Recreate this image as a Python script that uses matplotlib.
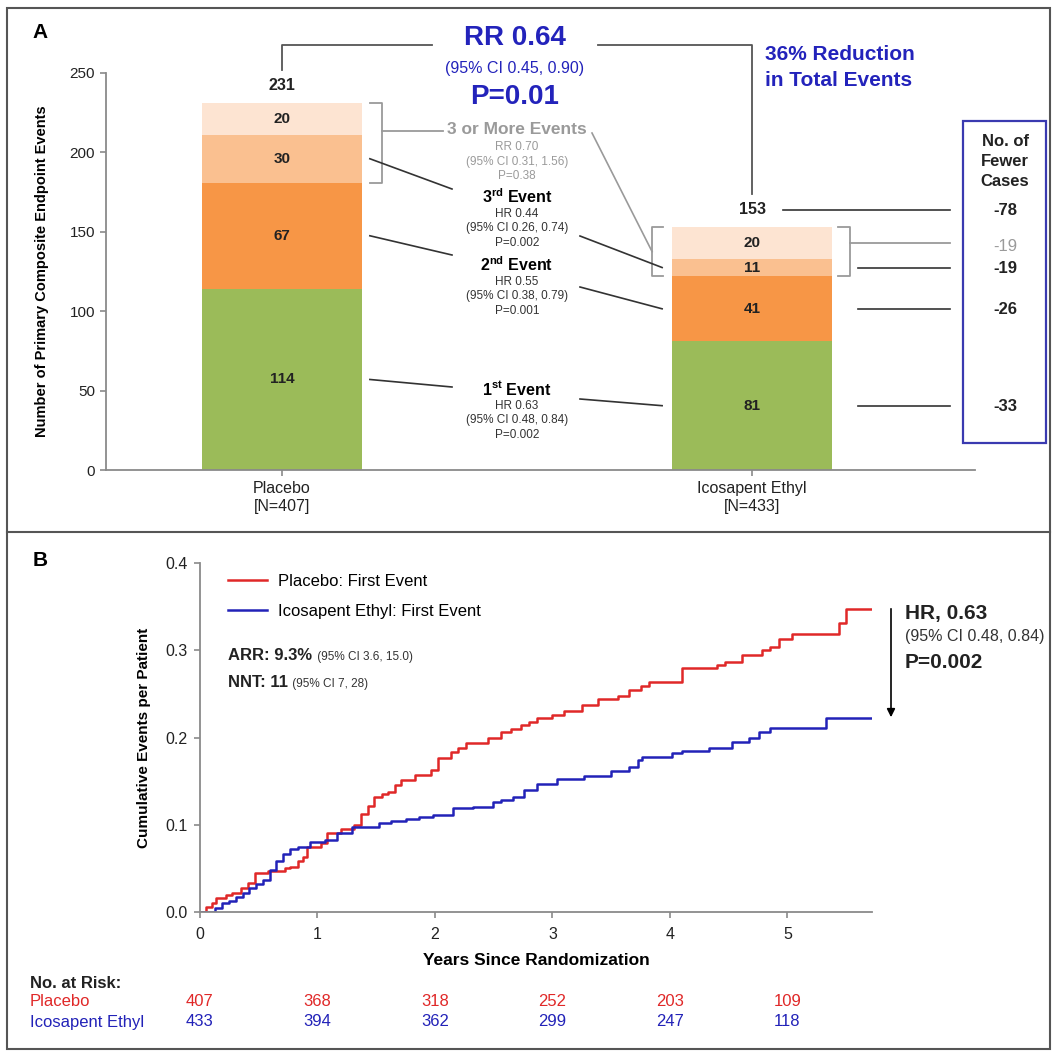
import matplotlib.pyplot as plt
from matplotlib.patches import Rectangle
from matplotlib.transforms import blended_transform_factory

plt.rcParams['font.family'] = ['Liberation Sans', 'DejaVu Sans']
plt.rcParams['mathtext.fontset'] = 'custom'
plt.rcParams['mathtext.rm'] = 'Liberation Sans'
plt.rcParams['mathtext.bf'] = 'Liberation Sans:bold'

# ---- panel A data: events by order ----
groups = ['Placebo', 'Icosapent Ethyl']
n_patients = [407, 433]
first_event = [114, 81]
second_event = [67, 41]
third_event = [30, 11]
fourth_plus = [20, 20]

# ---- panel B data: cumulative first events ----
years_placebo = [0, 0.05, 0.10, 0.14, 0.22, 0.27, 0.35, 0.41, 0.47, 0.58,
                 0.72, 0.77, 0.83, 0.88, 0.91, 1.03, 1.08, 1.20, 1.31, 1.37,
                 1.43, 1.48, 1.55, 1.60, 1.66, 1.71, 1.83, 1.97, 2.03, 2.14,
                 2.20, 2.26, 2.45, 2.56, 2.65, 2.73, 2.80, 2.87, 3.00, 3.10,
                 3.25, 3.39, 3.56, 3.65, 3.75, 3.82, 4.10, 4.40, 4.47, 4.61,
                 4.78, 4.85, 4.93, 5.04, 5.44, 5.50, 5.72]
cum_placebo = [0, 0.006, 0.010, 0.016, 0.019, 0.022, 0.028, 0.033, 0.045, 0.047,
               0.050, 0.052, 0.058, 0.063, 0.075, 0.079, 0.090, 0.095, 0.100, 0.112,
               0.122, 0.132, 0.135, 0.138, 0.145, 0.151, 0.157, 0.163, 0.176, 0.183,
               0.188, 0.194, 0.200, 0.206, 0.210, 0.214, 0.218, 0.222, 0.226, 0.230,
               0.237, 0.244, 0.247, 0.254, 0.259, 0.264, 0.280, 0.283, 0.287, 0.295,
               0.300, 0.304, 0.313, 0.319, 0.331, 0.347, 0.347]
years_ipe = [0, 0.13, 0.19, 0.25, 0.31, 0.37, 0.42, 0.48, 0.54, 0.60,
             0.65, 0.71, 0.77, 0.83, 0.94, 1.06, 1.17, 1.29, 1.52, 1.63,
             1.75, 1.86, 1.98, 2.15, 2.32, 2.49, 2.56, 2.66, 2.76, 2.87,
             3.04, 3.27, 3.50, 3.65, 3.73, 3.76, 4.02, 4.10, 4.33, 4.53,
             4.67, 4.76, 4.85, 5.33, 5.72]
cum_ipe = [0, 0.005, 0.010, 0.013, 0.017, 0.022, 0.027, 0.032, 0.037, 0.048,
           0.058, 0.067, 0.072, 0.075, 0.080, 0.082, 0.090, 0.097, 0.102, 0.104,
           0.107, 0.109, 0.111, 0.119, 0.120, 0.126, 0.128, 0.132, 0.140, 0.147,
           0.152, 0.156, 0.162, 0.166, 0.174, 0.178, 0.182, 0.184, 0.188, 0.195,
           0.199, 0.206, 0.211, 0.222, 0.222]
risk_years = [0, 1, 2, 3, 4, 5]
risk_placebo = [407, 368, 318, 252, 203, 109]
risk_ipe = [433, 394, 362, 299, 247, 118]

W, H = 1056, 1053
RED = '#E02828'
BLUE = '#2222B8'
TXTBLUE = '#2323BB'
GRAY = '#9A9A9A'
AXGRAY = '#8A8A8A'
DARK = '#333333'

fig = plt.figure(figsize=(W / 100, H / 100), dpi=100)


def rect(l, t, r, b):
    return [l / W, 1 - b / H, (r - l) / W, (b - t) / H]


ax_a = fig.add_axes(rect(106, 73, 975, 470))
ax_b = fig.add_axes(rect(200, 563, 872, 912))
ov = fig.add_axes([0, 0, 1, 1])
ov.set_xlim(0, W)
ov.set_ylim(H, 0)
ov.set_axis_off()


def style(ax):
    for s in ['top', 'right']:
        ax.spines[s].set_visible(False)
    for s in ['left', 'bottom']:
        ax.spines[s].set_color(AXGRAY)
        ax.spines[s].set_linewidth(1.3)
    ax.tick_params(color=AXGRAY, width=1.2, length=4, labelcolor='#222222')


def txt(x, y, s, size, color='black', weight='normal', ha='center', va='center'):
    return ov.text(x, y, s, fontsize=size, color=color, fontweight=weight, ha=ha, va=va)


# ================= Panel A =================
style(ax_a)
ax_a.set_xlim(-0.3744, 1.4744)
ax_a.set_ylim(0, 250)
layers = [first_event, second_event, third_event, fourth_plus]
colors = ['#9BBB59', '#F79646', '#FAC090', '#FDE4D2']
pos = [0, 1]
width = 0.34
bottom = [0, 0]
centers = []
for vals, c in zip(layers, colors):
    ax_a.bar(pos, vals, width, bottom=bottom, color=c)
    mids = []
    for p, v, b in zip(pos, vals, bottom):
        ax_a.text(p, b + v / 2, str(v), ha='center', va='center', fontsize=11,
                  fontweight='bold', color='#222222')
        mids.append(b + v / 2)
    centers.append(mids)
    bottom = [b + v for b, v in zip(bottom, vals)]
totals = bottom
for p, tot in zip(pos, totals):
    ax_a.text(p, tot + 11, str(tot), ha='center', va='center', fontsize=11.5,
              fontweight='bold', color='#222222')

ax_a.set_yticks(range(0, 251, 50))
ax_a.set_xticks(pos)
ax_a.set_xticklabels([f'{g}\n[N={n}]' for g, n in zip(groups, n_patients)], fontsize=11.5)
ax_a.tick_params(axis='y', labelsize=11, pad=4)
ax_a.tick_params(axis='x', pad=4)
ax_a.set_ylabel('Number of Primary Composite Endpoint Events', fontsize=10.5, fontweight='bold')
ax_a.yaxis.set_label_coords(-0.066, 0.5)


def apx(x):
    return ax_a.transData.transform((x, 0))[0]


def apy(y):
    return H - ax_a.transData.transform((0, y))[1]


bl = [apx(p - width / 2) for p in pos]
br = [apx(p + width / 2) for p in pos]
cx = [apx(p) for p in pos]
lab_y = [apy(t + 11) for t in totals]

# overall RR connector
ov.plot([cx[0], cx[0], 432], [lab_y[0] - 16, 45, 45], color='#555555', lw=1.3)
ov.plot([598, cx[1], cx[1]], [45, 45, lab_y[1] - 16], color='#555555', lw=1.3)
txt(515, 38, 'RR 0.64', 20, TXTBLUE, 'bold')
txt(515, 68, '(95% CI 0.45, 0.90)', 11.5, TXTBLUE)
txt(515, 97, 'P=0.01', 20, TXTBLUE, 'bold')
txt(765, 55, '36% Reduction', 15, TXTBLUE, 'bold', ha='left')
txt(765, 80, 'in Total Events', 15, TXTBLUE, 'bold', ha='left')

# 3 or more events brackets
base3 = [a + b for a, b in zip(first_event, second_event)]
xb = br[0] + 20
ov.plot([br[0] + 8, xb, xb, br[0] + 8], [apy(totals[0]), apy(totals[0]), apy(base3[0]), apy(base3[0])],
        color=GRAY, lw=1.3)
ov.plot([xb, 443], [131, 131], color=GRAY, lw=1.3)
txt(517, 130, '3 or More Events', 12.5, GRAY, 'bold')
for k, s in enumerate(['RR 0.70', '(95% CI 0.31, 1.56)', 'P=0.38']):
    txt(517, 147 + 14.5 * k, s, 8.5, GRAY)
mid_ipe = (totals[1] + base3[1]) / 2
xl, xr = bl[1] - 20, br[1] + 18
ov.plot([bl[1] - 9, xl, xl, bl[1] - 9], [apy(totals[1]), apy(totals[1]), apy(base3[1]), apy(base3[1])],
        color=GRAY, lw=1.3)
ov.plot([br[1] + 6, xr, xr, br[1] + 6], [apy(totals[1]), apy(totals[1]), apy(base3[1]), apy(base3[1])],
        color=GRAY, lw=1.3)
ov.plot([592, xl], [133, apy(mid_ipe)], color=GRAY, lw=1.2)
gray_y = apy(centers[3][1])
ov.plot([xr, 950], [gray_y] * 2, color=GRAY, lw=1.3)

# per-event statistics
events = [
    (r'$\mathbf{1^{st}}$ Event', ['HR 0.63', '(95% CI 0.48, 0.84)', 'P=0.002'], 389, 387, 399),
    (r'$\mathbf{2^{nd}}$ Event', ['HR 0.55', '(95% CI 0.38, 0.79)', 'P=0.001'], 265, 255, 287),
    (r'$\mathbf{3^{rd}}$ Event', ['HR 0.44', '(95% CI 0.26, 0.74)', 'P=0.002'], 197, 189, 236),
]
for i, (title, sub, ty, yl, yr) in enumerate(events):
    txt(517, ty, title, 11.5, 'black', 'bold')
    for k, s in enumerate(sub):
        txt(517, ty + 17 + 14.5 * k, s, 8.5, DARK)
    ov.plot([br[0] + 8, 452], [apy(centers[i][0]), yl], color=DARK, lw=1.2)
    ov.plot([580, bl[1] - 10], [yr, apy(centers[i][1])], color=DARK, lw=1.2)

# fewer cases box
ov.add_patch(Rectangle((963, 121), 83, 322, fill=False, ec='#3A3AB0', lw=1.6))
for k, s in enumerate(['No. of', 'Fewer', 'Cases']):
    txt(1005, 142 + 20 * k, s, 12, '#222222', 'bold')
fewer_total = totals[1] - totals[0]
fewer_3plus = base3[0] - totals[0] + totals[1] - base3[1]
ov.plot([783, 950], [lab_y[1]] * 2, color=DARK, lw=1.2)
txt(1005, lab_y[1] + 1, f'{fewer_total}', 12, '#222222', 'bold')
txt(1005, gray_y + 4, f'{fewer_3plus}', 12, GRAY)
for i, vals in enumerate([first_event, second_event, third_event]):
    y = apy(centers[i][1])
    ov.plot([br[1] + 26, 950], [y, y], color=DARK, lw=1.2)
    txt(1005, y + 1, f'{vals[1] - vals[0]}', 12, '#222222', 'bold')

# ================= Panel B =================
style(ax_b)
ax_b.step(years_placebo, cum_placebo, where='post', color=RED, lw=1.8, label='Placebo: First Event')
ax_b.step(years_ipe, cum_ipe, where='post', color=BLUE, lw=1.8, label='Icosapent Ethyl: First Event')
ax_b.set_xlim(0, 5.72)
ax_b.set_ylim(0, 0.4)
ax_b.set_xticks(risk_years)
ax_b.set_yticks([0, 0.1, 0.2, 0.3, 0.4])
ax_b.set_yticklabels(['0.0', '0.1', '0.2', '0.3', '0.4'])
ax_b.tick_params(labelsize=11.5)
ax_b.tick_params(axis='x', pad=7)
ax_b.tick_params(axis='y', pad=5)
ax_b.set_xlabel('Years Since Randomization', fontsize=12.5, fontweight='bold')
ax_b.xaxis.set_label_coords(0.5, -0.118)
ax_b.set_ylabel('Cumulative Events per Patient', fontsize=11, fontweight='bold')
ax_b.yaxis.set_label_coords(-0.073, 0.5)
ax_b.legend(loc='upper left', bbox_to_anchor=(0.042, 0.968), frameon=False, fontsize=12,
            borderpad=0, borderaxespad=0, handlelength=2.33, handletextpad=0.66, labelspacing=0.86)

t1 = txt(228, 660, 'ARR: 9.3%', 12, '#222222', 'bold', ha='left', va='baseline')
ov.annotate(' (95% CI 3.6, 15.0)', xy=(1, 0), xycoords=t1, xytext=(1, 0), textcoords='offset points',
            fontsize=8.5, color=DARK, va='bottom')
t2 = txt(228, 687, 'NNT: 11', 12, '#222222', 'bold', ha='left', va='baseline')
ov.annotate(' (95% CI 7, 28)', xy=(1, 0), xycoords=t2, xytext=(1, 0), textcoords='offset points',
            fontsize=8.5, color=DARK, va='bottom')

ov.annotate('', xy=(891, 720), xytext=(891, 606),
            arrowprops=dict(arrowstyle='-|>', color='black', lw=1.2, mutation_scale=12))
txt(905, 614, 'HR, 0.63', 15, '#222222', 'bold', ha='left')
txt(905, 637, '(95% CI 0.48, 0.84)', 11.5, DARK, ha='left')
txt(905, 663, 'P=0.002', 15, '#222222', 'bold', ha='left')

# number at risk
txt(30, 983, 'No. at Risk:', 12, '#222222', 'bold', ha='left')
txt(30, 1002, 'Placebo', 12, RED, ha='left')
txt(30, 1022, 'Icosapent Ethyl', 12, BLUE, ha='left')
tb = blended_transform_factory(ax_b.transData, ov.transData)
for yr, a, b in zip(risk_years, risk_placebo, risk_ipe):
    ov.text(yr, 1002, str(a), transform=tb, ha='center', va='center', fontsize=12, color=RED)
    ov.text(yr, 1022, str(b), transform=tb, ha='center', va='center', fontsize=12, color=BLUE)

# panel letters and frame
txt(40, 33, 'A', 15, 'black', 'bold')
txt(40, 560, 'B', 15, 'black', 'bold')
ov.add_patch(Rectangle((7, 8), 1043, 1041, fill=False, ec='#555555', lw=1.5))
ov.plot([7, 1050], [532, 532], color='#555555', lw=1.5)

fig.savefig('out.png', dpi=100)
